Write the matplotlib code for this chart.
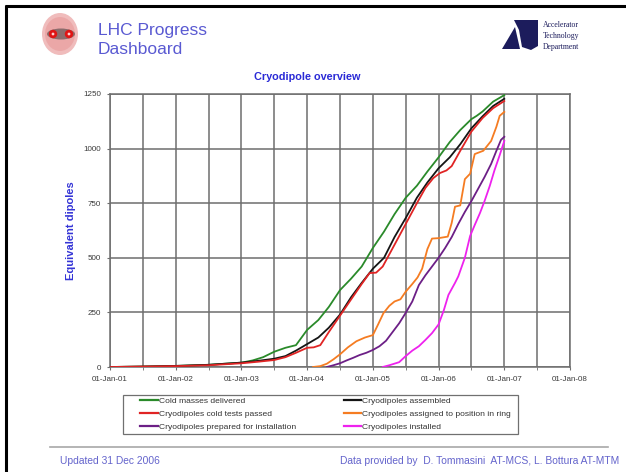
import matplotlib
matplotlib.use("Agg")
import matplotlib.pyplot as plt
from matplotlib.patches import Ellipse, Circle, Polygon, Rectangle

plt.rcParams['font.family'] = ['Liberation Sans', 'DejaVu Sans']

# ---------------- data (decimal years, equivalent dipoles) ----------------
green_t = [2001.0, 2001.5, 2002.0, 2002.5, 2003.0, 2003.17, 2003.33, 2003.5, 2003.67, 2003.83,
           2004.0, 2004.17, 2004.33, 2004.5, 2004.67, 2004.83, 2005.0, 2005.17, 2005.33, 2005.5,
           2005.67, 2005.83, 2006.0, 2006.17, 2006.33, 2006.5, 2006.58, 2006.67, 2006.83, 2007.0]
green_v = [0, 2, 5, 10, 20, 30, 45, 70, 88, 100,
           170, 215, 275, 352, 405, 460, 545, 620, 700, 775,
           830, 895, 960, 1030, 1085, 1135, 1150, 1170, 1215, 1245]

black_t = [2001.0, 2001.5, 2002.0, 2002.5, 2003.0, 2003.25, 2003.5, 2003.67, 2003.83, 2004.0,
           2004.17, 2004.33, 2004.5, 2004.67, 2004.83, 2005.0, 2005.17, 2005.33, 2005.5, 2005.67,
           2005.83, 2006.0, 2006.17, 2006.33, 2006.5, 2006.67, 2006.83, 2007.0]
black_v = [0, 2, 5, 10, 20, 28, 38, 50, 75, 105,
           135, 180, 240, 320, 385, 450, 500, 595, 682, 775,
           845, 910, 960, 1020, 1093, 1148, 1195, 1228]

red_t = [2001.0, 2001.5, 2002.0, 2002.5, 2003.0, 2003.25, 2003.5, 2003.67, 2003.83, 2004.0,
         2004.1, 2004.2, 2004.33, 2004.5, 2004.67, 2004.83, 2004.95, 2005.05, 2005.15, 2005.33,
         2005.5, 2005.67, 2005.8, 2005.92, 2006.02, 2006.12, 2006.2, 2006.33, 2006.5, 2006.67,
         2006.83, 2007.0]
red_v = [0, 2, 4, 8, 17, 24, 32, 45, 65, 88,
         90, 100, 160, 235, 310, 380, 430, 432, 460, 560,
         655, 750, 820, 865, 888, 900, 920, 990, 1078, 1140,
         1185, 1218]

orange_t = [2004.09, 2004.2, 2004.3, 2004.4, 2004.5, 2004.62, 2004.75, 2004.88, 2005.0, 2005.08,
            2005.16, 2005.25, 2005.33, 2005.42, 2005.5, 2005.6, 2005.68, 2005.75, 2005.83, 2005.9,
            2006.0, 2006.14, 2006.2, 2006.25, 2006.33, 2006.4, 2006.48, 2006.55, 2006.68, 2006.8,
            2006.88, 2006.93, 2007.0]
orange_v = [0, 4, 15, 35, 58, 90, 118, 135, 146, 195,
            246, 280, 300, 310, 345, 380, 410, 450, 540, 588,
            590, 597, 660, 734, 740, 860, 885, 975, 990, 1035,
            1100, 1150, 1168]

purple_t = [2004.3, 2004.4, 2004.5, 2004.6, 2004.7, 2004.8, 2004.9, 2005.0, 2005.1, 2005.2,
            2005.3, 2005.4, 2005.5, 2005.6, 2005.7, 2005.8, 2005.9, 2006.0, 2006.1, 2006.2,
            2006.3, 2006.4, 2006.5, 2006.6, 2006.7, 2006.8, 2006.88, 2006.95, 2007.0]
purple_v = [0, 8, 17, 30, 42, 55, 65, 78, 95, 120,
            160, 200, 248, 300, 375, 420, 460, 500, 545, 595,
            655, 710, 760, 815, 870, 930, 990, 1040, 1054]

magenta_t = [2005.15, 2005.25, 2005.4, 2005.5, 2005.6, 2005.7, 2005.8, 2005.9, 2006.0, 2006.08,
             2006.15, 2006.25, 2006.3, 2006.4, 2006.48, 2006.55, 2006.63, 2006.7, 2006.78, 2006.85,
             2006.93, 2007.0]
magenta_v = [0, 8, 22, 50, 75, 95, 124, 155, 195, 260,
             330, 385, 415, 500, 600, 650, 705, 760, 830, 900,
             970, 1035]

series = [
    ("Cold masses delivered", green_t, green_v, "#2a8a2a"),
    ("Cryodipoles cold tests passed", red_t, red_v, "#e02424"),
    ("Cryodipoles prepared for installation", purple_t, purple_v, "#6c1f86"),
    ("Cryodipoles assembled", black_t, black_v, "#151515"),
    ("Cryodipoles assigned to position in ring", orange_t, orange_v, "#f57c22"),
    ("Cryodipoles installed", magenta_t, magenta_v, "#ee22ee"),
]
draw_order = [0, 3, 1, 4, 2, 5]

x_ticks = [2001, 2002, 2003, 2004, 2005, 2006, 2007, 2008]
x_labels = ["01-Jan-01", "01-Jan-02", "01-Jan-03", "01-Jan-04",
            "01-Jan-05", "01-Jan-06", "01-Jan-07", "01-Jan-08"]
y_ticks = [0, 250, 500, 750, 1000, 1250]

# ---------------- figure ----------------
W, H = 626, 472
fig = plt.figure(figsize=(W / 100, H / 100), dpi=100)
fig.patch.set_facecolor("white")

# decorative overlay in pixel coordinates
ov = fig.add_axes([0, 0, 1, 1], zorder=0)
ov.set_xlim(0, W)
ov.set_ylim(H, 0)
ov.axis("off")

# page frame
ov.plot([5, W], [5.5, 5.5], color="black", lw=2.2, solid_capstyle="butt")
ov.plot([5.5, 5.5], [5, H], color="black", lw=2.2, solid_capstyle="butt")

# left logo
ov.add_patch(Ellipse((60, 34), 36, 42, facecolor="#f0bcbc", edgecolor="none"))
ov.add_patch(Ellipse((60, 34), 30, 34, facecolor="#e89a9a", edgecolor="none", alpha=0.6))
ov.add_patch(Ellipse((61, 34), 28, 11, facecolor="#8c6c6c", edgecolor="none"))
ov.add_patch(Circle((53, 34), 4.2, facecolor="#e01414", edgecolor="none"))
ov.add_patch(Circle((69, 34), 4.2, facecolor="#e01414", edgecolor="none"))
ov.add_patch(Circle((53, 34), 1.4, facecolor="#ffd0d0", edgecolor="none"))
ov.add_patch(Circle((69, 34), 1.4, facecolor="#ffd0d0", edgecolor="none"))

ov.text(98, 30, "LHC Progress", fontsize=12.5, color="#5a5ad2", va="center", ha="left")
ov.text(98, 49, "Dashboard", fontsize=12.5, color="#5a5ad2", va="center", ha="left")

# right logo
navy = "#1c1c5c"
ov.add_patch(Polygon([(502, 49), (515, 27), (520, 49)], closed=True, facecolor=navy, edgecolor="none"))
ov.add_patch(Polygon([(514, 20), (538, 20), (538, 46), (531, 50), (522, 47), (519, 30)],
                     closed=True, facecolor=navy, edgecolor="none"))
for yy, s in [(25, "Accelerator"), (36, "Technology"), (47, "Department")]:
    ov.text(543, yy, s, fontsize=5.6, color=navy, va="center", ha="left",
            family=["Liberation Serif", "DejaVu Serif"])

# chart title and footer
ov.text(307, 77, "Cryodipole overview", fontsize=7.8, fontweight="bold",
        color="#2a2ad6", ha="center", va="center")
ov.plot([50, 608], [447, 447], color="#a8a8a8", lw=1.2)
ov.text(60, 461, "Updated 31 Dec 2006", fontsize=7.4, color="#6464cc", ha="left", va="center")
ov.text(619, 461, "Data provided by  D. Tommasini  AT-MCS, L. Bottura AT-MTM", fontsize=7.4,
        color="#6464cc", ha="right", va="center")

# legend box
ov.add_patch(Rectangle((122.5, 395), 395.5, 39, facecolor="white", edgecolor="#707070", lw=0.9))

# ---------------- chart ----------------
ax = fig.add_axes([110 / W, 1 - 367 / H, 460 / W, 273 / H], zorder=1)
ax.patch.set_alpha(0)
handles = {}
for i in draw_order:
    name, t, v, c = series[i]
    ln, = ax.plot(t, v, color=c, lw=1.3, label=name, zorder=3)
    handles[i] = ln

ax.set_xlim(2001, 2008)
ax.set_ylim(0, 1250)
ax.set_xticks(x_ticks)
ax.set_xticklabels(x_labels)
ax.set_xticks([x + 0.5 for x in x_ticks[:-1]], minor=True)
ax.set_yticks(y_ticks)
ax.set_yticklabels([str(y) for y in y_ticks])
ax.grid(True, which="major", color="#6e6e6e", lw=1.1, zorder=1)
ax.grid(True, which="minor", axis="x", color="#6e6e6e", lw=1.1, zorder=1)
ax.tick_params(which="both", length=2.5, color="#6e6e6e", labelsize=5.8, labelcolor="#3a3a3a", pad=4)
for sp in ax.spines.values():
    sp.set_color("#6e6e6e")
    sp.set_linewidth(1.1)
ax.set_ylabel("Equivalent dipoles", fontsize=8, fontweight="bold", color="#3434d6", labelpad=5)

leg = fig.legend([handles[i] for i in range(6)], [series[i][0] for i in range(6)],
                 ncol=2, loc="upper left",
                 bbox_to_anchor=(140 / W, 1 - 397.5 / H),
                 fontsize=6.1, frameon=False, handlelength=2.1, handletextpad=0.1,
                 borderaxespad=0, labelspacing=0.6, borderpad=0, columnspacing=5.65)
for t in leg.get_texts():
    t.set_color("#333333")
for l in leg.get_lines():
    l.set_linewidth(1.6)

fig.savefig("out.png", dpi=100)
